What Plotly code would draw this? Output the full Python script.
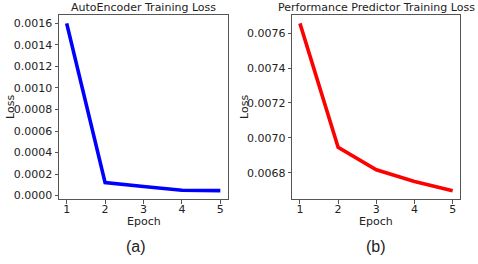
import plotly.graph_objects as go

epochs = [1, 2, 3, 4, 5]
ae_loss = [0.00160, 0.000121, 0.000084, 0.000050, 0.000046]
pp_loss = [0.007657, 0.006946, 0.006817, 0.006750, 0.006697]
ae_ticks = [0.0, 0.0002, 0.0004, 0.0006, 0.0008, 0.0010, 0.0012, 0.0014, 0.0016]
pp_ticks = [0.0068, 0.0070, 0.0072, 0.0074, 0.0076]

FONT = "DejaVu Sans"
W, H = 478, 264

fig = go.Figure()
fig.add_trace(go.Scatter(x=epochs, y=ae_loss, mode="lines",
                         line=dict(color="#0000ff", width=3.6), xaxis="x", yaxis="y"))
fig.add_trace(go.Scatter(x=epochs, y=pp_loss, mode="lines",
                         line=dict(color="#ff0000", width=3.6), xaxis="x2", yaxis="y2"))

def margin_range(vals):
    lo, hi = min(vals), max(vals)
    pad = (hi - lo) * 0.05
    return [lo - pad, hi + pad]

axis_common = dict(showline=True, linecolor="#555555", linewidth=1, mirror=True,
                   ticks="outside", ticklen=3.5, tickcolor="#555555", tickwidth=1,
                   showgrid=False, zeroline=False, automargin=False,
                   tickfont=dict(family=FONT, size=11, color="#222222"))

yd = [1 - 199 / H, 1 - 15 / H]
fig.update_layout(
    width=W, height=H, margin=dict(l=0, r=0, t=0, b=0, autoexpand=False),
    paper_bgcolor="white", plot_bgcolor="white", showlegend=False,
    xaxis=dict(domain=[59 / W, 228 / W], range=margin_range(epochs),
               tickvals=epochs, anchor="y", ticklabelstandoff=-4, **axis_common),
    yaxis=dict(domain=yd, range=margin_range(ae_loss), tickvals=ae_ticks,
               tickformat=".4f", anchor="x", **axis_common),
    xaxis2=dict(domain=[292.3 / W, 460.3 / W], range=margin_range(epochs),
                tickvals=epochs, anchor="y2", ticklabelstandoff=-4, **axis_common),
    yaxis2=dict(domain=yd, range=margin_range(pp_loss), tickvals=pp_ticks,
                tickformat=".4f", anchor="x2", **axis_common),
)

def ann(text, x, y, size, angle=0, family=FONT):
    fig.add_annotation(text=text, x=x / W, y=1 - y / H, xref="paper", yref="paper",
                       showarrow=False, textangle=angle, xanchor="center", yanchor="middle",
                       font=dict(family=family, size=size, color="#222222"))

ann("AutoEncoder Training Loss", 143.5, 8, 11)
ann("Performance Predictor Training Loss", 376.3, 8, 11)
ann("Loss", 10, 107, 11, angle=-90)
ann("Loss", 244, 107, 11, angle=-90)
ann("Epoch", 143.5, 221, 11)
ann("Epoch", 376.3, 221, 11)
ann("(a)", 136, 246, 16, family="Liberation Sans")
ann("(b)", 376, 246, 16, family="Liberation Sans")

fig.write_html("out.html", config={"displayModeBar": False},
               post_script="document.body.style.margin='0';document.body.style.overflow='hidden';")
